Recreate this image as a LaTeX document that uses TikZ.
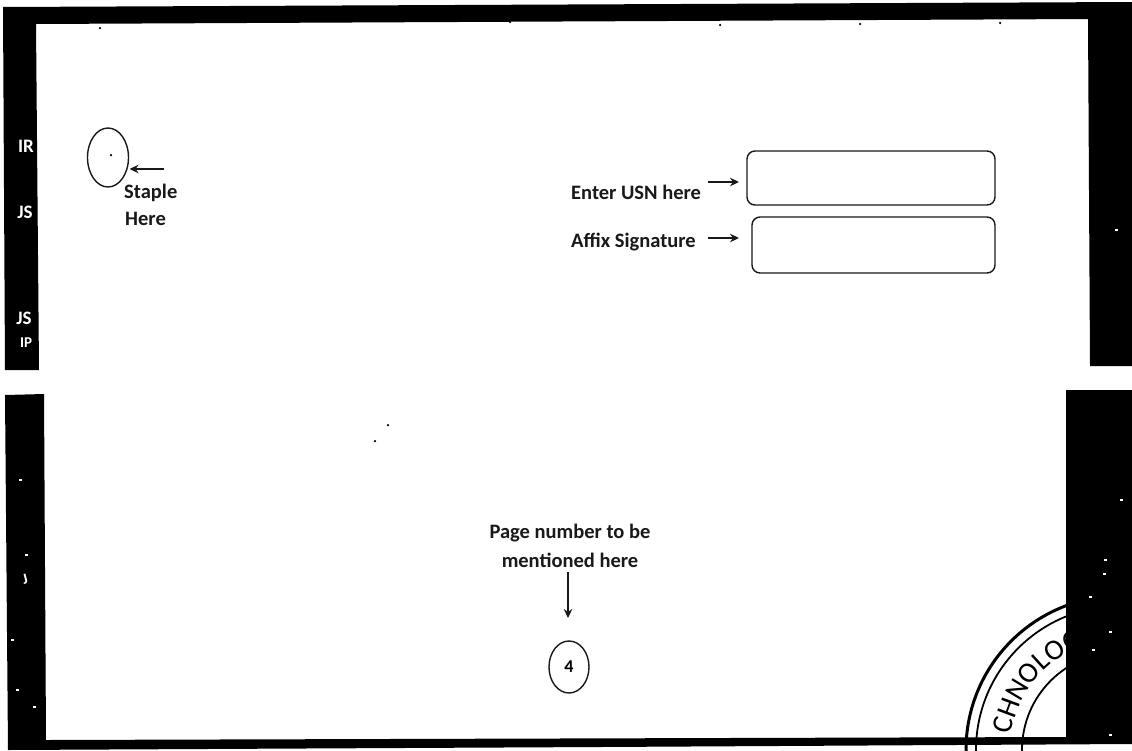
\documentclass[tikz,border=0pt]{standalone}
\usepackage{fontspec}
\setmainfont{Carlito}
\usetikzlibrary{arrows.meta,shapes.geometric,decorations.text}
\tikzset{
  ink/.style={draw=black!90,line width=1.4pt},
  lbl/.style={inner sep=0pt,font=\fontsize{20.5}{20.5}\selectfont\bfseries,text=black!90},
  pointer/.style={ink,-{Stealth[length=9pt,width=8.5pt]}},
  staplemark/.style={ink,ellipse,minimum width=41pt,minimum height=59pt,inner sep=0pt},
  pagemark/.style={ink,ellipse,minimum width=40pt,minimum height=52pt,inner sep=0pt,font=\fontsize{18}{18}\selectfont\bfseries},
  entrybox/.style={ink,rounded corners=8pt,inner sep=0pt},
  seal/.style={draw=black,line width=2pt},
  ghost/.style={inner sep=0pt,text=white,font=\fontsize{19}{19}\selectfont\bfseries},
  speck/.style={fill=black,draw=none,circle,inner sep=0pt,minimum size=2.5pt},
  whitespeck/.style={fill=white,draw=none,inner sep=0pt,minimum width=3pt,minimum height=2pt}
}
\begin{document}
\begin{tikzpicture}[x=1pt,y=-1pt]
\useasboundingbox (0,0) rectangle (1132,750);
\fill[white] (0,0) rectangle (1132,750);
% seal (partly hidden by the frame)
\begin{scope}
\clip (900,560) rectangle (1070,750);
\draw[seal,line width=3pt] (1120,750) circle[radius=154];
\draw[seal,line width=1.8pt] (1120,750) circle[radius=144];
\draw[seal,line width=1.8pt] (1120,750) circle[radius=98];
\path[decorate,decoration={text along path,text={|\fontsize{29}{29}\selectfont|CHNOLOG}}]
  plot[domain=8:85,samples=60] ({1120-110*cos(\x)},{750-110*sin(\x)});
\end{scope}
% frame, upper sheet
\fill[black] (3,7) -- (1132,2) -- (1132,366) -- (1090,366) -- (1088,19) -- (36,24) -- (39,370) -- (5,370) -- cycle;
% frame, lower sheet
\fill[black] (5,395) -- (44,394) -- (46,740) -- (1066,737) -- (1066,390) -- (1132,390) -- (1132,744) -- (600,747) -- (8,750) -- cycle;
% scan remains in the frame
\node[ghost] (g1) at (26,146) {IR};
\node[ghost] (g2) at (25,212) {JS};
\node[ghost] (g3) at (24,318) {JS};
\node[ghost,font=\fontsize{15}{15}\selectfont\bfseries] (g4) at (26,343) {IP};
\node[ghost,font=\fontsize{15}{15}\selectfont\bfseries,rotate=15] (g5) at (25,579) {J};
\foreach \x/\y in {1105/560,1104/574,1090/597,1110/632,1093/650,1110/735,34/707,20/480,26/555,12/640,17/690,1116/230,1121/500}{
  \node[whitespeck] at (\x,\y) {};
}
% specks on the sheet
\foreach \x/\y in {388/425,375/441,100/28,510/22,720/25,860/24,1000/23}{
  \node[speck] at (\x,\y) {};
}
% staple
\node[staplemark] (staple) at (108,157.5) {};
\node[speck] (stapledot) at (111,155) {};
\node[lbl,anchor=west] (stapletext) at (124,193) {Staple};
\node[lbl,anchor=west] (heretext) at (125,219) {Here};
\coordinate (staplefrom) at (164,169);
\coordinate (stapleto) at (129.5,169);
\draw[pointer] (staplefrom) -- (stapleto);
% USN and signature
\node[entrybox,minimum width=248pt,minimum height=54pt] (usn) at (871,178) {};
\node[entrybox,minimum width=243pt,minimum height=56pt] (sig) at (873.5,245) {};
\node[lbl,anchor=west] (usntext) at (571,192) {Enter USN here};
\node[lbl,anchor=west] (sigtext) at (571,242) {Affix Signature};
\coordinate (usnfrom) at (708,182);
\coordinate (usnto) at (739,182);
\coordinate (sigfrom) at (708,238);
\coordinate (sigto) at (739,238);
\draw[pointer] (usnfrom) -- (usnto);
\draw[pointer] (sigfrom) -- (sigto);
% page number
\node[lbl,align=center] (pagetext) at (570,533) {Page number to be};
\node[lbl,align=center] (mentiontext) at (570,560) {mentioned here};
\node[pagemark] (page) at (569,667) {4};
\coordinate (pagefrom) at (568,572);
\coordinate (pageto) at (568,618);
\draw[pointer] (pagefrom) -- (pageto);
\end{tikzpicture}
\end{document}
